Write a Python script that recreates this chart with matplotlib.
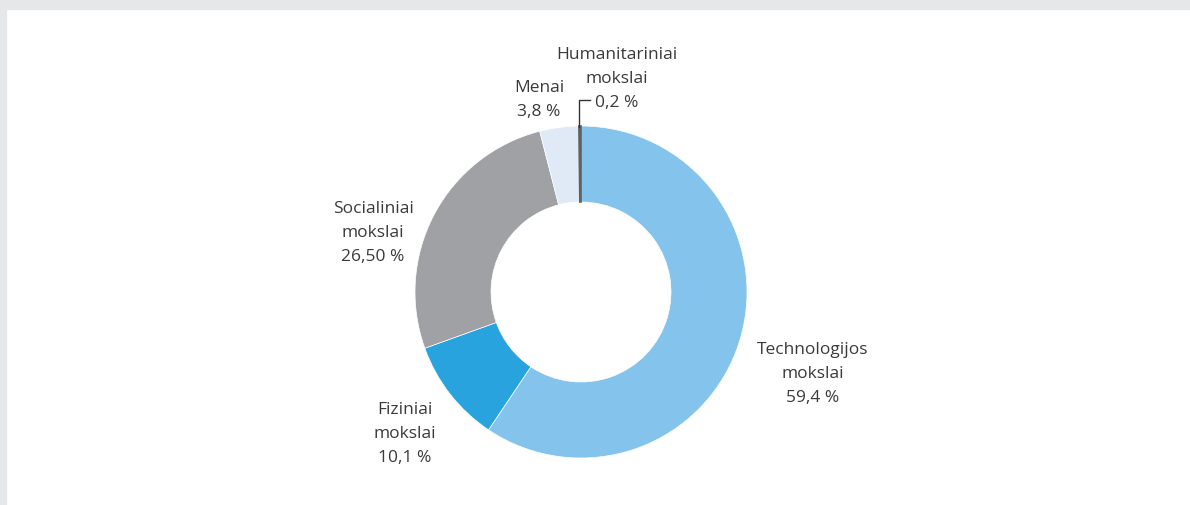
import matplotlib
matplotlib.use("Agg")
from matplotlib import pyplot as plt
from matplotlib.patches import Rectangle

# donut data, clockwise from the top
labels = ['Technologijos\nmokslai\n59,4 %', 'Fiziniai\nmokslai\n10,1 %',
          'Socialiniai\nmokslai\n26,50 %', 'Menai\n3,8 %',
          'Humanitariniai\nmokslai\n0,2 %']
shares = [59.4, 10.1, 26.5, 3.8, 0.2]
colors = ['#84c3ec', '#29a3dd', '#a0a1a4', '#dfeaf6', '#5f6062']

H = 505


def put_label(ax, x, y_top, text):
    # one text per line, 24 px apart
    for i, line in enumerate(text.split('\n')):
        ax.text(x, H - (y_top + 24 * i), line, ha='center', va='center',
                fontsize=12.5, color='#3a3a3a')


def main():
    plt.rcParams['font.family'] = ['Open Sans', 'DejaVu Sans']
    fig = plt.figure(figsize=(11.9, 5.05), dpi=100)
    ax = fig.add_axes([0, 0, 1, 1])

    # grey frame on top and left
    ax.add_patch(Rectangle((0, H - 9), 1190, 9, color='#e6e7e9', zorder=0))
    ax.add_patch(Rectangle((0, 0), 6, H, color='#e6e7e9', zorder=0))

    wedges, _ = ax.pie(shares, colors=colors, startangle=90,
                       counterclock=False, center=(581, H - 292),
                       radius=166, frame=True,
                       wedgeprops=dict(width=76, edgecolor='white',
                                       linewidth=0.5))
    wedges[-1].set_edgecolor(colors[-1])
    wedges[-1].set_linewidth(1.2)
    ax.set_xlim(0, 1190)
    ax.set_ylim(0, H)
    ax.set_aspect('auto')
    ax.axis('off')

    put_label(ax, 813, 350, labels[0])
    put_label(ax, 405, 410, labels[1])
    put_label(ax, 373, 209, labels[2])
    put_label(ax, 539, 88, labels[3])
    put_label(ax, 617, 55, labels[4])

    # leader line for the thin slice
    ax.plot([579, 579, 590], [H - 127, H - 100, H - 100],
            color='#333333', lw=1)

    fig.savefig('out.png', dpi=100)


if __name__ == "__main__":
    main()
